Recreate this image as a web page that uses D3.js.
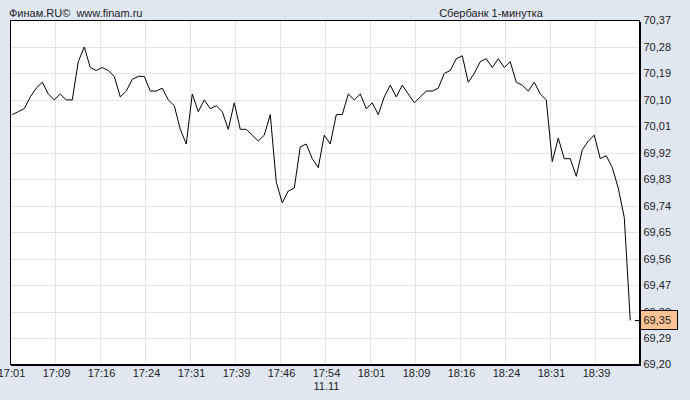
<!DOCTYPE html>
<html>
<head>
<meta charset="utf-8">
<script src="https://cdn.jsdelivr.net/npm/d3@7"></script>
<style>
  html, body { margin: 0; padding: 0; background: #e1e7f1; }
  svg { display: block; }
  text { font-family: Arial, "Liberation Sans", sans-serif; font-size: 11px; fill: #222; }
</style>
</head>
<body>
<svg id="chart" width="690" height="400"></svg>
<script>
// ---- data ----
const title = "Сбербанк 1-минутка";
const source = "Финам.RU©  www.finam.ru";
const dateLabel = "11.11";
const timeLabels = ["17:01","17:09","17:16","17:24","17:31","17:39","17:46","17:54","18:01","18:09","18:16","18:24","18:31","18:39"];
const priceTicks = [70.37,70.28,70.19,70.10,70.01,69.92,69.83,69.74,69.65,69.56,69.47,69.38,69.29,69.20];
// 1-minute closing prices starting 17:01
const prices = [
  70.05,70.06,70.07,70.11,70.14,70.16,70.12,70.10,70.12,70.10,
  70.10,70.23,70.28,70.21,70.20,70.21,70.20,70.18,70.11,70.13,
  70.17,70.18,70.18,70.13,70.13,70.14,70.10,70.08,70.00,69.95,
  70.12,70.06,70.10,70.07,70.08,70.06,70.00,70.09,70.00,70.00,
  69.98,69.96,69.98,70.05,69.82,69.75,69.79,69.80,69.94,69.95,
  69.90,69.87,69.98,69.95,70.05,70.05,70.12,70.10,70.12,70.07,
  70.09,70.05,70.11,70.15,70.11,70.15,70.12,70.09,70.11,70.13,
  70.13,70.14,70.19,70.20,70.24,70.25,70.16,70.19,70.23,70.24,
  70.21,70.24,70.21,70.23,70.16,70.15,70.13,70.16,70.12,70.10,
  69.89,69.97,69.90,69.90,69.84,69.93,69.96,69.98,69.90,69.91,
  69.87,69.80,69.70,69.35
];
const lastPrice = prices[prices.length - 1];
const minutesSpan = 105;      // minutes covered by the plot
const tickStep = 7.5;         // minutes between time ticks

// ---- layout ----
const svg = d3.select("#chart");
const L = 10, R = 640, T = 20.5, B = 364.5;
const x = d3.scaleLinear().domain([0, minutesSpan]).range([L, R]);
const y = d3.scaleLinear().domain([69.20, 70.37]).range([B, T]);
const fmt = v => d3.format(".2f")(v).replace(".", ",");

// plot background
svg.append("rect").attr("x", L + 0.5).attr("y", T).attr("width", R - L - 1).attr("height", B - T)
  .attr("fill", "#ffffff");

// grid
const grid = svg.append("g").attr("stroke", "#dfe5ef").attr("stroke-width", 1).attr("shape-rendering", "crispEdges");
grid.selectAll("line.h").data(priceTicks.slice(1, -1)).join("line")
  .attr("x1", L).attr("x2", R).attr("y1", d => Math.round(y(d)) + 0.5).attr("y2", d => Math.round(y(d)) + 0.5);
grid.selectAll("line.v").data(timeLabels.slice(1)).join("line")
  .attr("x1", (d, i) => Math.round(x((i + 1) * tickStep)) + 0.5)
  .attr("x2", (d, i) => Math.round(x((i + 1) * tickStep)) + 0.5)
  .attr("y1", T).attr("y2", B);

// line
const line = d3.line().x((d, i) => x(i + 0.38)).y(d => y(d));
svg.append("path").datum(prices).attr("d", line)
  .attr("fill", "none").attr("stroke", "#000").attr("stroke-width", 1);

// frame
svg.append("rect").attr("x", L + 0.5).attr("y", T).attr("width", R - L - 1).attr("height", B - T)
  .attr("fill", "none").attr("stroke", "#000").attr("stroke-width", 1).attr("shape-rendering", "crispEdges");
svg.append("line").attr("x1", R + 0.5).attr("x2", R + 0.5).attr("y1", T + 1).attr("y2", B + 1)
  .attr("stroke", "#000").attr("shape-rendering", "crispEdges");
svg.append("line").attr("x1", L + 1).attr("x2", R + 1).attr("y1", B + 1).attr("y2", B + 1)
  .attr("stroke", "#000").attr("shape-rendering", "crispEdges");

// y labels
svg.selectAll("text.yl").data(priceTicks).join("text")
  .attr("x", 643.5).attr("y", d => y(d)).attr("dy", "0.36em").text(d => fmt(d));

// x labels
svg.selectAll("text.xl").data(timeLabels).join("text")
  .attr("x", (d, i) => x(i * tickStep) + 1.5).attr("y", 377).attr("text-anchor", "middle").text(d => d);
svg.append("text").attr("x", x(7 * tickStep) + 1.5).attr("y", 390).attr("text-anchor", "middle").text(dateLabel);

// titles
svg.append("text").attr("x", 9).attr("y", 16.5).text(source).attr("xml:space", "preserve").style("white-space", "pre");
svg.append("text").attr("x", 491).attr("y", 16.5).attr("text-anchor", "middle").text(title);

// last value marker
const ly = y(lastPrice);
svg.append("line").attr("x1", R - 5).attr("x2", R).attr("y1", Math.round(ly) + 0.5).attr("y2", Math.round(ly) + 0.5)
  .attr("stroke", "#000").attr("shape-rendering", "crispEdges");
svg.append("rect").attr("x", 640.5).attr("y", Math.round(ly) - 9.5).attr("width", 37).attr("height", 19)
  .attr("fill", "#fbc393").attr("stroke", "#000").attr("shape-rendering", "crispEdges");
svg.append("text").attr("x", 643.5).attr("y", ly).attr("dy", "0.36em").text(fmt(lastPrice));
</script>
</body>
</html>
